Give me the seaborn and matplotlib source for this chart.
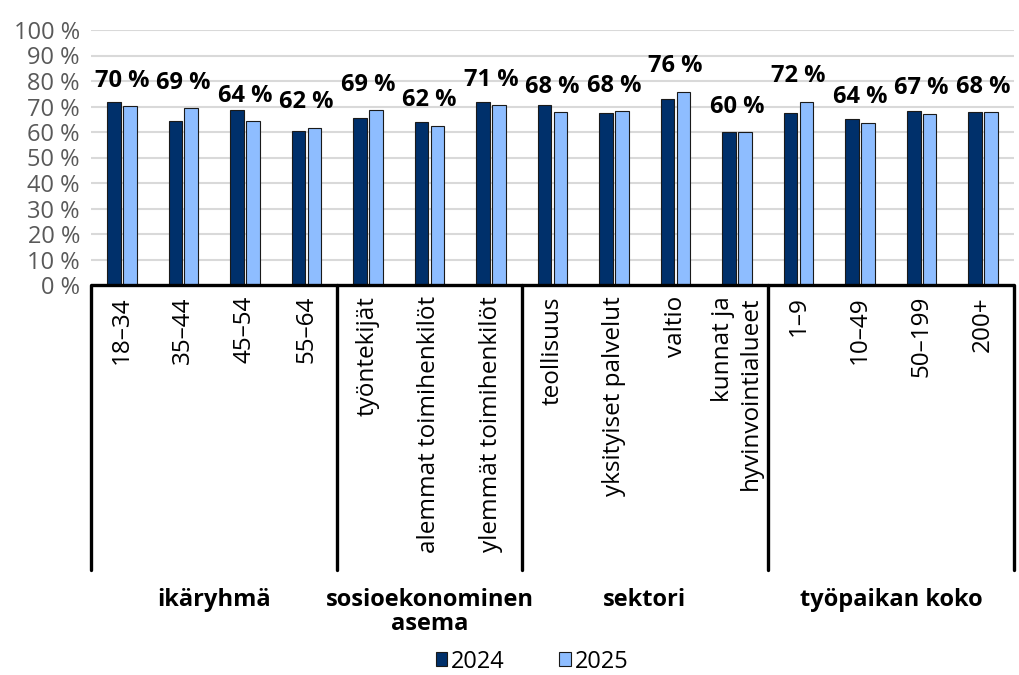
import pandas as pd
import seaborn as sns
import matplotlib.pyplot as plt
import matplotlib.transforms as mtransforms

# Data
categories = ["18–34", "35–44", "45–54", "55–64",
              "työntekijät", "alemmat toimihenkilöt", "ylemmät toimihenkilöt",
              "teollisuus", "yksityiset palvelut", "valtio", "kunnat ja\nhyvinvointialueet",
              "1–9", "10–49", "50–199", "200+"]
groups = ["ikäryhmä", "sosioekonominen\nasema", "sektori", "työpaikan koko"]
group_sizes = [4, 3, 4, 4]
years = ["2024", "2025"]
v2024 = [71.9, 64.4, 68.6, 60.5, 65.6, 64.1, 71.9, 70.5, 67.3, 73.1, 60.1, 67.6, 65.1, 68.2, 67.8]
v2025 = [70.1, 69.3, 64.2, 61.7, 68.6, 62.4, 70.6, 67.7, 68.2, 75.8, 59.9, 71.9, 63.6, 67.1, 67.8]
yticks = list(range(0, 101, 10))

df = pd.DataFrame({
    "kategoria": categories * 2,
    "vuosi": [years[0]] * len(categories) + [years[1]] * len(categories),
    "osuus": v2024 + v2025,
})

sns.set_style("white")
plt.rcParams["font.family"] = ["Open Sans", "DejaVu Sans"]
plt.rcParams["text.color"] = "black"
plt.rcParams["xtick.color"] = "black"

fig = plt.figure(figsize=(10.19, 6.75), dpi=100)
ax = fig.add_axes([91 / 1019, 1 - 285 / 675, 923 / 1019, 255 / 675])

sns.barplot(data=df, x="kategoria", y="osuus", hue="vuosi", order=categories,
            hue_order=years, palette=["#00306B", "#8EBDFF"], saturation=1,
            width=0.52, gap=0.15, edgecolor="#1a1a1a", linewidth=0.8, ax=ax)

ax.set_ylim(0, 100)
ax.set_xlim(-0.5, len(categories) - 0.5)
ax.set_xlabel("")
ax.set_ylabel("")
ax.set_yticks(yticks)
ax.set_yticklabels([f"{t} %" for t in yticks])
ax.tick_params(axis="y", length=0, pad=8, labelcolor="#595959", labelsize=17)
ax.set_xticks(range(len(categories)))
ax.set_xticklabels(categories, rotation=90, fontsize=17.5)
ax.tick_params(axis="x", length=0, pad=8, labelcolor="black")
for lbl in ax.get_xticklabels():
    lbl.set_multialignment("right")
ax.yaxis.grid(True, color="#d9d9d9", linewidth=1.5)
ax.set_axisbelow(True)
for s in ax.spines.values():
    s.set_visible(False)

# value labels (2025) above each category
for i, v in enumerate(v2025):
    ax.annotate(f"{round(v)} %", (i, v), xytext=(0, 14), textcoords="offset points",
                ha="center", va="baseline", fontsize=17, fontweight="bold", color="black")

# category table lines below the axis
trans = mtransforms.blended_transform_factory(ax.transData, ax.transAxes)
ax.plot([-0.5, len(categories) - 0.5], [0, 0], transform=trans, color="black",
        lw=2.4, clip_on=False, solid_capstyle="butt")
bounds = [-0.5]
for n in group_sizes:
    bounds.append(bounds[-1] + n)
for b in bounds:
    ax.plot([b, b], [0, -1.118], transform=trans, color="black", lw=2.4, clip_on=False)
for g, a, b in zip(groups, bounds[:-1], bounds[1:]):
    ax.text((a + b) / 2, -1.19, g, transform=trans, ha="center", va="top",
            fontsize=17, fontweight="bold", linespacing=0.95, color="black")

handles, labels = ax.get_legend_handles_labels()
ax.get_legend().remove()
fig.legend(handles, labels, loc="center", bbox_to_anchor=(0.522, 0.02), ncol=2,
           frameon=False, fontsize=17, handlelength=0.5, handleheight=0.5,
           handletextpad=0.15, columnspacing=2.3)

fig.savefig("out.png", dpi=100)
